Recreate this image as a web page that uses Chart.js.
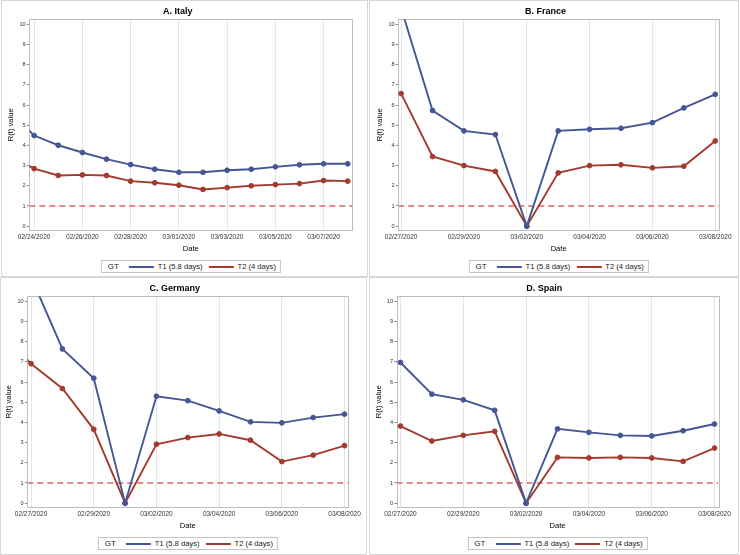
<!DOCTYPE html>
<html>
<head>
<meta charset="utf-8">
<script src="https://cdn.jsdelivr.net/npm/chart.js@4.4.1/dist/chart.umd.min.js"></script>
<style>
  html, body { margin:0; padding:0; background:#fff; }
  #wrap { position:relative; width:740px; height:555px; overflow:hidden; font-family:"Liberation Sans", Arial, sans-serif; }
  .panel { position:absolute; box-sizing:border-box; border:1px solid #d6d6d6; background:#fff; }
  .panel canvas { position:absolute; left:0; top:0; }
  .lg { position:absolute; transform:translateX(-50%); border:1px solid #c4c4c4; background:#fff;
        font-size:7.6px; color:#222; white-space:nowrap; height:11px; line-height:11px; padding:0 4px 0 6px; display:flex; align-items:center; }
  .lg .gt { margin-right:10px; font-size:8px; }
  .lg .sw { display:inline-block; width:25px; height:2px; margin-right:4px; }
  .lg .t { margin-right:6px; }
  .lg .t:last-child { margin-right:0; }
</style>
</head>
<body>
<div id="wrap"></div>
<script>
// ---------------- data ----------------
const seriesNames = ['T1 (5.8 days)', 'T2 (4 days)'];
const legendTitle = 'GT';
const threshold = 1;
const yTicks = [0,1,2,3,4,5,6,7,8,9,10];

const italyDates = ['02/23/2020','02/24/2020','02/25/2020','02/26/2020','02/27/2020','02/28/2020','02/29/2020','03/01/2020','03/02/2020','03/03/2020','03/04/2020','03/05/2020','03/06/2020','03/07/2020','03/08/2020'];
const italyT1 = [5.7, 4.49, 4.01, 3.65, 3.32, 3.05, 2.82, 2.67, 2.67, 2.77, 2.82, 2.94, 3.04, 3.09, 3.09];
const italyT2 = [3.5, 2.85, 2.51, 2.54, 2.51, 2.23, 2.15, 2.03, 1.82, 1.91, 2.00, 2.06, 2.11, 2.26, 2.23];
const italyTicks = ['02/24/2020','02/26/2020','02/28/2020','03/01/2020','03/03/2020','03/05/2020','03/07/2020'];

const franceDates = ['02/27/2020','02/28/2020','02/29/2020','03/01/2020','03/02/2020','03/03/2020','03/04/2020','03/05/2020','03/06/2020','03/07/2020','03/08/2020'];
const franceT1 = [10.8, 5.73, 4.72, 4.54, 0, 4.72, 4.80, 4.85, 5.13, 5.86, 6.53];
const franceT2 = [6.57, 3.45, 3.00, 2.71, 0, 2.64, 3.00, 3.04, 2.89, 2.97, 4.22];

const germanyDates = ['02/26/2020','02/27/2020','02/28/2020','02/29/2020','03/01/2020','03/02/2020','03/03/2020','03/04/2020','03/05/2020','03/06/2020','03/07/2020','03/08/2020'];
const germanyT1 = [null, 11.2, 7.64, 6.19, 0, 5.30, 5.08, 4.57, 4.03, 3.98, 4.24, 4.41];
const germanyT2 = [8.5, 6.91, 5.68, 3.66, 0, 2.92, 3.25, 3.43, 3.12, 2.06, 2.38, 2.85];

const spainDates = ['02/27/2020','02/28/2020','02/29/2020','03/01/2020','03/02/2020','03/03/2020','03/04/2020','03/05/2020','03/06/2020','03/07/2020','03/08/2020'];
const spainT1 = [6.97, 5.40, 5.12, 4.60, 0, 3.68, 3.51, 3.36, 3.33, 3.59, 3.92];
const spainT2 = [3.82, 3.08, 3.36, 3.56, 0, 2.27, 2.24, 2.27, 2.24, 2.07, 2.73];

const lateTicks = ['02/27/2020','02/29/2020','03/02/2020','03/04/2020','03/06/2020','03/08/2020'];

// ---------------- helpers ----------------
function dayNum(s) { const [m,d,y] = s.split('/').map(Number); return Date.UTC(y, m-1, d) / 86400000; }
const FONT = '"Liberation Sans", Arial, sans-serif';
const BLUE = '#445694', RED = '#A23A2E';

const panels = [
  { title:'A. Italy', dates:italyDates, t1:italyT1, t2:italyT2, ticks:italyTicks, first:'02/24/2020', last:'03/08/2020', padDay:[0.2,0.19],
    box:{x:1, y:0, w:367, h:277}, padL:1, padR:14.7, padB:21.8 },
  { title:'B. France', dates:franceDates, t1:franceT1, t2:franceT2, ticks:lateTicks, first:'02/27/2020', last:'03/08/2020', padDay:[0.09,0.12],
    box:{x:369, y:0, w:370, h:277}, padL:2, padR:19, padB:21.8 },
  { title:'C. Germany', dates:germanyDates, t1:germanyT1, t2:germanyT2, ticks:lateTicks, first:'02/27/2020', last:'03/08/2020', padDay:[0.12,0.12],
    box:{x:0, y:277, w:367, h:278}, padL:0, padR:17.7, padB:22.8 },
  { title:'D. Spain', dates:spainDates, t1:spainT1, t2:spainT2, ticks:lateTicks, first:'02/27/2020', last:'03/08/2020', padDay:[0.12,0.12],
    box:{x:369, y:277, w:370, h:278}, padL:0.4, padR:19.7, padB:22.8 }
];

const framePlugin = {
  id:'frame',
  beforeDatasetsDraw(chart) {
    const {ctx, chartArea:a, scales} = chart;
    ctx.save();
    const yp = scales.y.getPixelForValue(threshold);
    ctx.strokeStyle = '#e26464';
    ctx.lineWidth = 1.5;
    ctx.setLineDash([6,4]);
    ctx.beginPath(); ctx.moveTo(a.left, yp); ctx.lineTo(a.right, yp); ctx.stroke();
    ctx.setLineDash([]);
    ctx.strokeStyle = '#bdbdbd';
    ctx.lineWidth = 1;
    ctx.strokeRect(Math.round(a.left)+0.5, Math.round(a.top)+0.5, Math.round(a.right-a.left), Math.round(a.bottom-a.top));
    ctx.restore();
  }
};

const wrap = document.getElementById('wrap');
panels.forEach(p => {
  const div = document.createElement('div');
  div.className = 'panel';
  Object.assign(div.style, { left:p.box.x+'px', top:p.box.y+'px', width:p.box.w+'px', height:p.box.h+'px' });
  wrap.appendChild(div);
  const cw = p.box.w - 2, ch = p.box.h - 2;
  const cv = document.createElement('canvas');
  cv.width = cw; cv.height = ch;
  cv.style.width = cw+'px'; cv.style.height = ch+'px';
  div.appendChild(cv);

  const xs = p.dates.map(dayNum);
  const tickVals = p.ticks.map(dayNum);
  const mk = (arr, color, name) => ({
    label:name,
    data: xs.map((x,i) => ({x, y:arr[i]})),
    borderColor:color, backgroundColor:color,
    borderWidth:1.9, pointRadius:2.4, pointBorderWidth:1, pointBackgroundColor:color, pointBorderColor:color,
    tension:0, spanGaps:false
  });

  const chart = new Chart(cv.getContext('2d'), {
    type:'line',
    data:{ datasets:[ mk(p.t1, BLUE, seriesNames[0]), mk(p.t2, RED, seriesNames[1]) ] },
    options:{
      responsive:false, animation:false, devicePixelRatio:1,
      layout:{ padding:{ left:p.padL, right:p.padR, top:0, bottom:p.padB } },
      plugins:{
        legend:{ display:false }, tooltip:{ enabled:false },
        title:{ display:true, text:p.title, color:'#000', font:{ family:FONT, size:9, weight:'bold' }, padding:{ top:5.6, bottom:1.9 } }
      },
      scales:{
        x:{
          type:'linear',
          min: dayNum(p.first) - p.padDay[0], max: dayNum(p.last) + p.padDay[1],
          afterBuildTicks: s => { s.ticks = tickVals.map(v => ({ value:v })); },
          afterFit: s => { s.height = 24; },
          ticks:{ autoSkip:false, maxRotation:0, minRotation:0, padding:2.9, color:'#333', font:{ family:FONT, size:6.5 },
                  callback:(v, i) => p.ticks[i] },
          grid:{ color:'#e4e4e4', drawTicks:false, lineWidth:1 },
          border:{ display:false },
          title:{ display:true, text:'Date', color:'#000', font:{ family:FONT, size:7.6 }, padding:{ top:0, bottom:0.7 } }
        },
        y:{
          min:-0.2, max:10.25,
          afterBuildTicks: s => { s.ticks = yTicks.map(v => ({ value:v })); },
          afterFit: s => { s.width = 26.3; },
          ticks:{ padding:1.2, color:'#333', font:{ family:FONT, size:5.6 }, callback:(v, i) => String(yTicks[i]) },
          grid:{ drawOnChartArea:false, drawTicks:true, tickLength:2.5, tickColor:'#8a8a8a' },
          border:{ display:false },
          title:{ display:true, text:'R(t) value', color:'#000', font:{ family:FONT, size:7.6 }, padding:{ top:3.5, bottom:0 } }
        }
      }
    },
    plugins:[framePlugin]
  });

  const lg = document.createElement('div');
  lg.className = 'lg';
  lg.innerHTML = '<span class="gt">' + legendTitle + '</span>' +
    '<span class="sw" style="background:' + BLUE + '"></span><span class="t">' + seriesNames[0] + '</span>' +
    '<span class="sw" style="background:' + RED + '"></span><span class="t">' + seriesNames[1] + '</span>';
  const a = chart.chartArea;
  lg.style.left = ((a.left + a.right) / 2) + 'px';
  lg.style.top = '259px';
  div.appendChild(lg);
});
</script>
</body>
</html>
